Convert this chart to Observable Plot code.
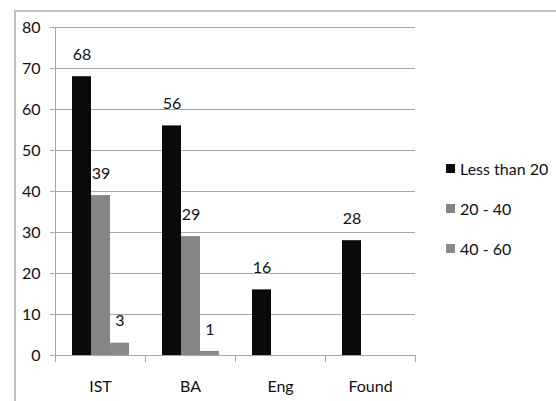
<!DOCTYPE html>
<html><head><meta charset="utf-8">
<script src="https://cdn.jsdelivr.net/npm/d3@7"></script>
<script src="https://cdn.jsdelivr.net/npm/@observablehq/plot@0.6"></script>
<style>
body{margin:0;background:#fff;font-family:Lato,sans-serif}
#wrap{position:relative;width:556px;height:401px;overflow:hidden}
#wrap svg{position:absolute;left:0;top:0}
#border{position:absolute;left:14px;top:10px;width:600px;height:500px;border-left:2px solid #c0c0c0;border-top:2px solid #c0c0c0;pointer-events:none}
#legend{position:absolute;left:446px;top:158px;font:16px Lato,sans-serif;color:#111}
.item{display:flex;align-items:center;height:20px;margin-bottom:20px;white-space:nowrap}
.sw{width:9px;height:9px;margin-right:5px;flex:none}
</style></head><body><div id="wrap"></div>
<script>
const categories = ["IST", "BA", "Eng", "Found"];
const series = ["Less than 20", "20 - 40", "40 - 60"];
const lessThan20 = [68, 56, 16, 28];
const from20to40 = [39, 29, null, null];
const from40to60 = [3, 1, null, null];
const colors = ["#0a0a0a", "#858585", "#8a8a8a"];
const yTicks = [0, 10, 20, 30, 40, 50, 60, 70, 80];

const values = [lessThan20, from20to40, from40to60];
const data = categories.flatMap((c, i) => series.map((s, j) => ({category: c, series: s, value: values[j][i]})));
const grid = "#a6a6a6";

const chart = Plot.plot({
  width: 556, height: 401,
  marginLeft: 54, marginRight: 140, marginTop: 27, marginBottom: 46,
  style: {fontFamily: "Lato, sans-serif", fontSize: "16px", background: "transparent"},
  fx: {domain: categories, padding: 0, paddingOuter: 0},
  x: {domain: series, axis: null, paddingInner: 0, paddingOuter: 0.8},
  y: {domain: [0, 80]},
  color: {domain: series, range: colors},
  marks: [
    Plot.ruleY(yTicks, {stroke: grid, strokeOpacity: 1}),
    Plot.barY(data.filter(d => d.value != null), {fx: "category", x: "series", y: "value", fill: "series"}),
    Plot.text(data.filter(d => d.value != null), {fx: "category", x: "series", y: "value", text: d => String(d.value), dy: -22, fontSize: 16, fill: "#111"}),
    Plot.ruleY([0], {stroke: grid}),
    Plot.frame({anchor: "left", facetAnchor: "left", stroke: grid, insetBottom: -6}),
    Plot.frame({anchor: "right", stroke: grid, insetTop: 328, insetBottom: -6}),
    Plot.axisY({ticks: yTicks, tickSize: 5, tickPadding: 10, stroke: grid, fill: "#111", fontSize: 16, label: null, facetAnchor: "left", tickFormat: d => String(d)}),
    Plot.axisFx({anchor: "bottom", tickSize: 0, tickPadding: 25, fontSize: 16, fill: "#111", label: null})
  ]
});
const wrap = document.getElementById("wrap");
wrap.appendChild(chart);
const border = document.createElement("div");
border.id = "border";
wrap.appendChild(border);
const legend = document.createElement("div");
legend.id = "legend";
series.forEach((s, i) => {
  const item = document.createElement("div");
  item.className = "item";
  const sw = document.createElement("span");
  sw.className = "sw";
  sw.style.background = colors[i];
  item.appendChild(sw);
  item.appendChild(document.createTextNode(s));
  legend.appendChild(item);
});
wrap.appendChild(legend);
</script></body></html>
